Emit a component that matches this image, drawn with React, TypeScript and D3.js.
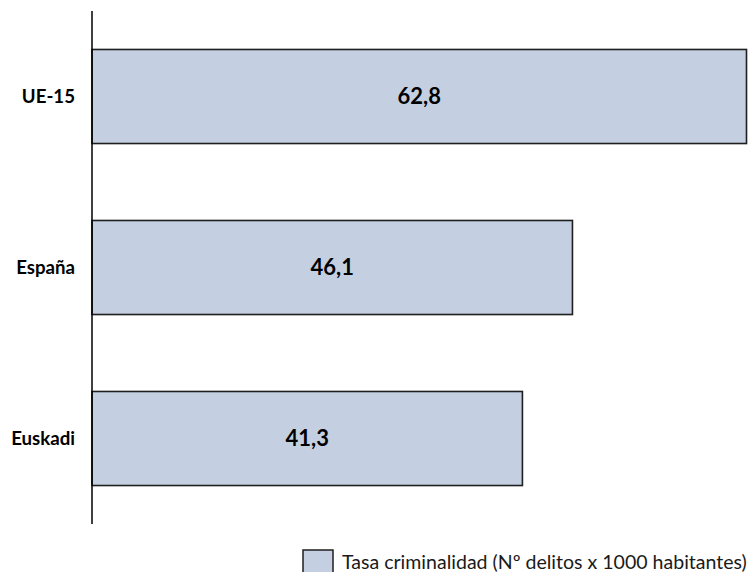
import React, { useLayoutEffect, useRef, useState } from "react";
import * as d3 from "d3";

const categories = ["UE-15", "España", "Euskadi"];
const values = [62.8, 46.1, 41.3];
const valueLabels = ["62,8", "46,1", "41,3"];
const seriesName = "Tasa criminalidad (Nº delitos x 1000 habitantes)";

const W = 751;
const H = 572;
const FONT = "Lato, 'Open Sans', sans-serif";

export default function App() {
  const catRefs = useRef<(SVGTextElement | null)[]>([]);
  const valRefs = useRef<(SVGTextElement | null)[]>([]);
  const legRef = useRef<SVGTextElement>(null);
  const [sizes, setSizes] = useState({ cat: 17, val: 21, leg: 19 });

  useLayoutEffect(() => {
    const fit = (els: (SVGTextElement | null)[], base: number, target: number) => {
      let w = 0;
      els.forEach((el) => {
        if (el) w += el.getComputedTextLength();
      });
      return w > 0 ? (base * target) / w : base;
    };
    const cat = fit(catRefs.current, sizes.cat, 50 + 61 + 65);
    const val = fit(valRefs.current, sizes.val, 44 + 43 + 43);
    const leg = fit([legRef.current], sizes.leg, 405);
    if (
      Math.abs(cat - sizes.cat) > 0.05 ||
      Math.abs(val - sizes.val) > 0.05 ||
      Math.abs(leg - sizes.leg) > 0.05
    ) {
      setSizes({ cat, val, leg });
    }
  }, [sizes]);

  const x = d3.scaleLinear().domain([0, 62.8]).range([92, 746.5]);
  const y = d3
    .scaleBand<string>()
    .domain(categories)
    .range([11, 524])
    .paddingInner(0.45)
    .paddingOuter(0.225);

  return (
    <svg
      width={W}
      height={H}
      style={{ position: "absolute", left: 0, top: 0, background: "#fff" }}
    >
      {categories.map((c, i) => {
        const y0 = y(c)!;
        const bw = y.bandwidth();
        return (
          <g key={c}>
            <rect
              x={x(0)}
              y={y0}
              width={x(values[i]) - x(0)}
              height={bw}
              fill="#c4cfe1"
              stroke="#1f1f1f"
              strokeWidth={1.6}
            />
            <text
              ref={(el) => {
                valRefs.current[i] = el;
              }}
              x={(x(0) + x(values[i])) / 2}
              y={y0 + bw / 2}
              dy="0.36em"
              textAnchor="middle"
              fontFamily={FONT}
              fontWeight="bold"
              fontSize={sizes.val}
              fill="#000"
            >
              {valueLabels[i]}
            </text>
            <text
              ref={(el) => {
                catRefs.current[i] = el;
              }}
              x={75}
              y={y0 + bw / 2}
              dy="0.36em"
              textAnchor="end"
              fontFamily={FONT}
              fontWeight="bold"
              fontSize={sizes.cat}
              fill="#000"
            >
              {c}
            </text>
          </g>
        );
      })}
      <line x1={92} x2={92} y1={11} y2={524} stroke="#000" strokeWidth={1.5} />
      <rect x={303} y={550} width={30} height={30} fill="#c4cfe1" stroke="#1f1f1f" strokeWidth={1.5} />
      <text ref={legRef} x={342} y={569} fontFamily={FONT} fontSize={sizes.leg} fill="#1a1a1a">
        {seriesName}
      </text>
    </svg>
  );
}
